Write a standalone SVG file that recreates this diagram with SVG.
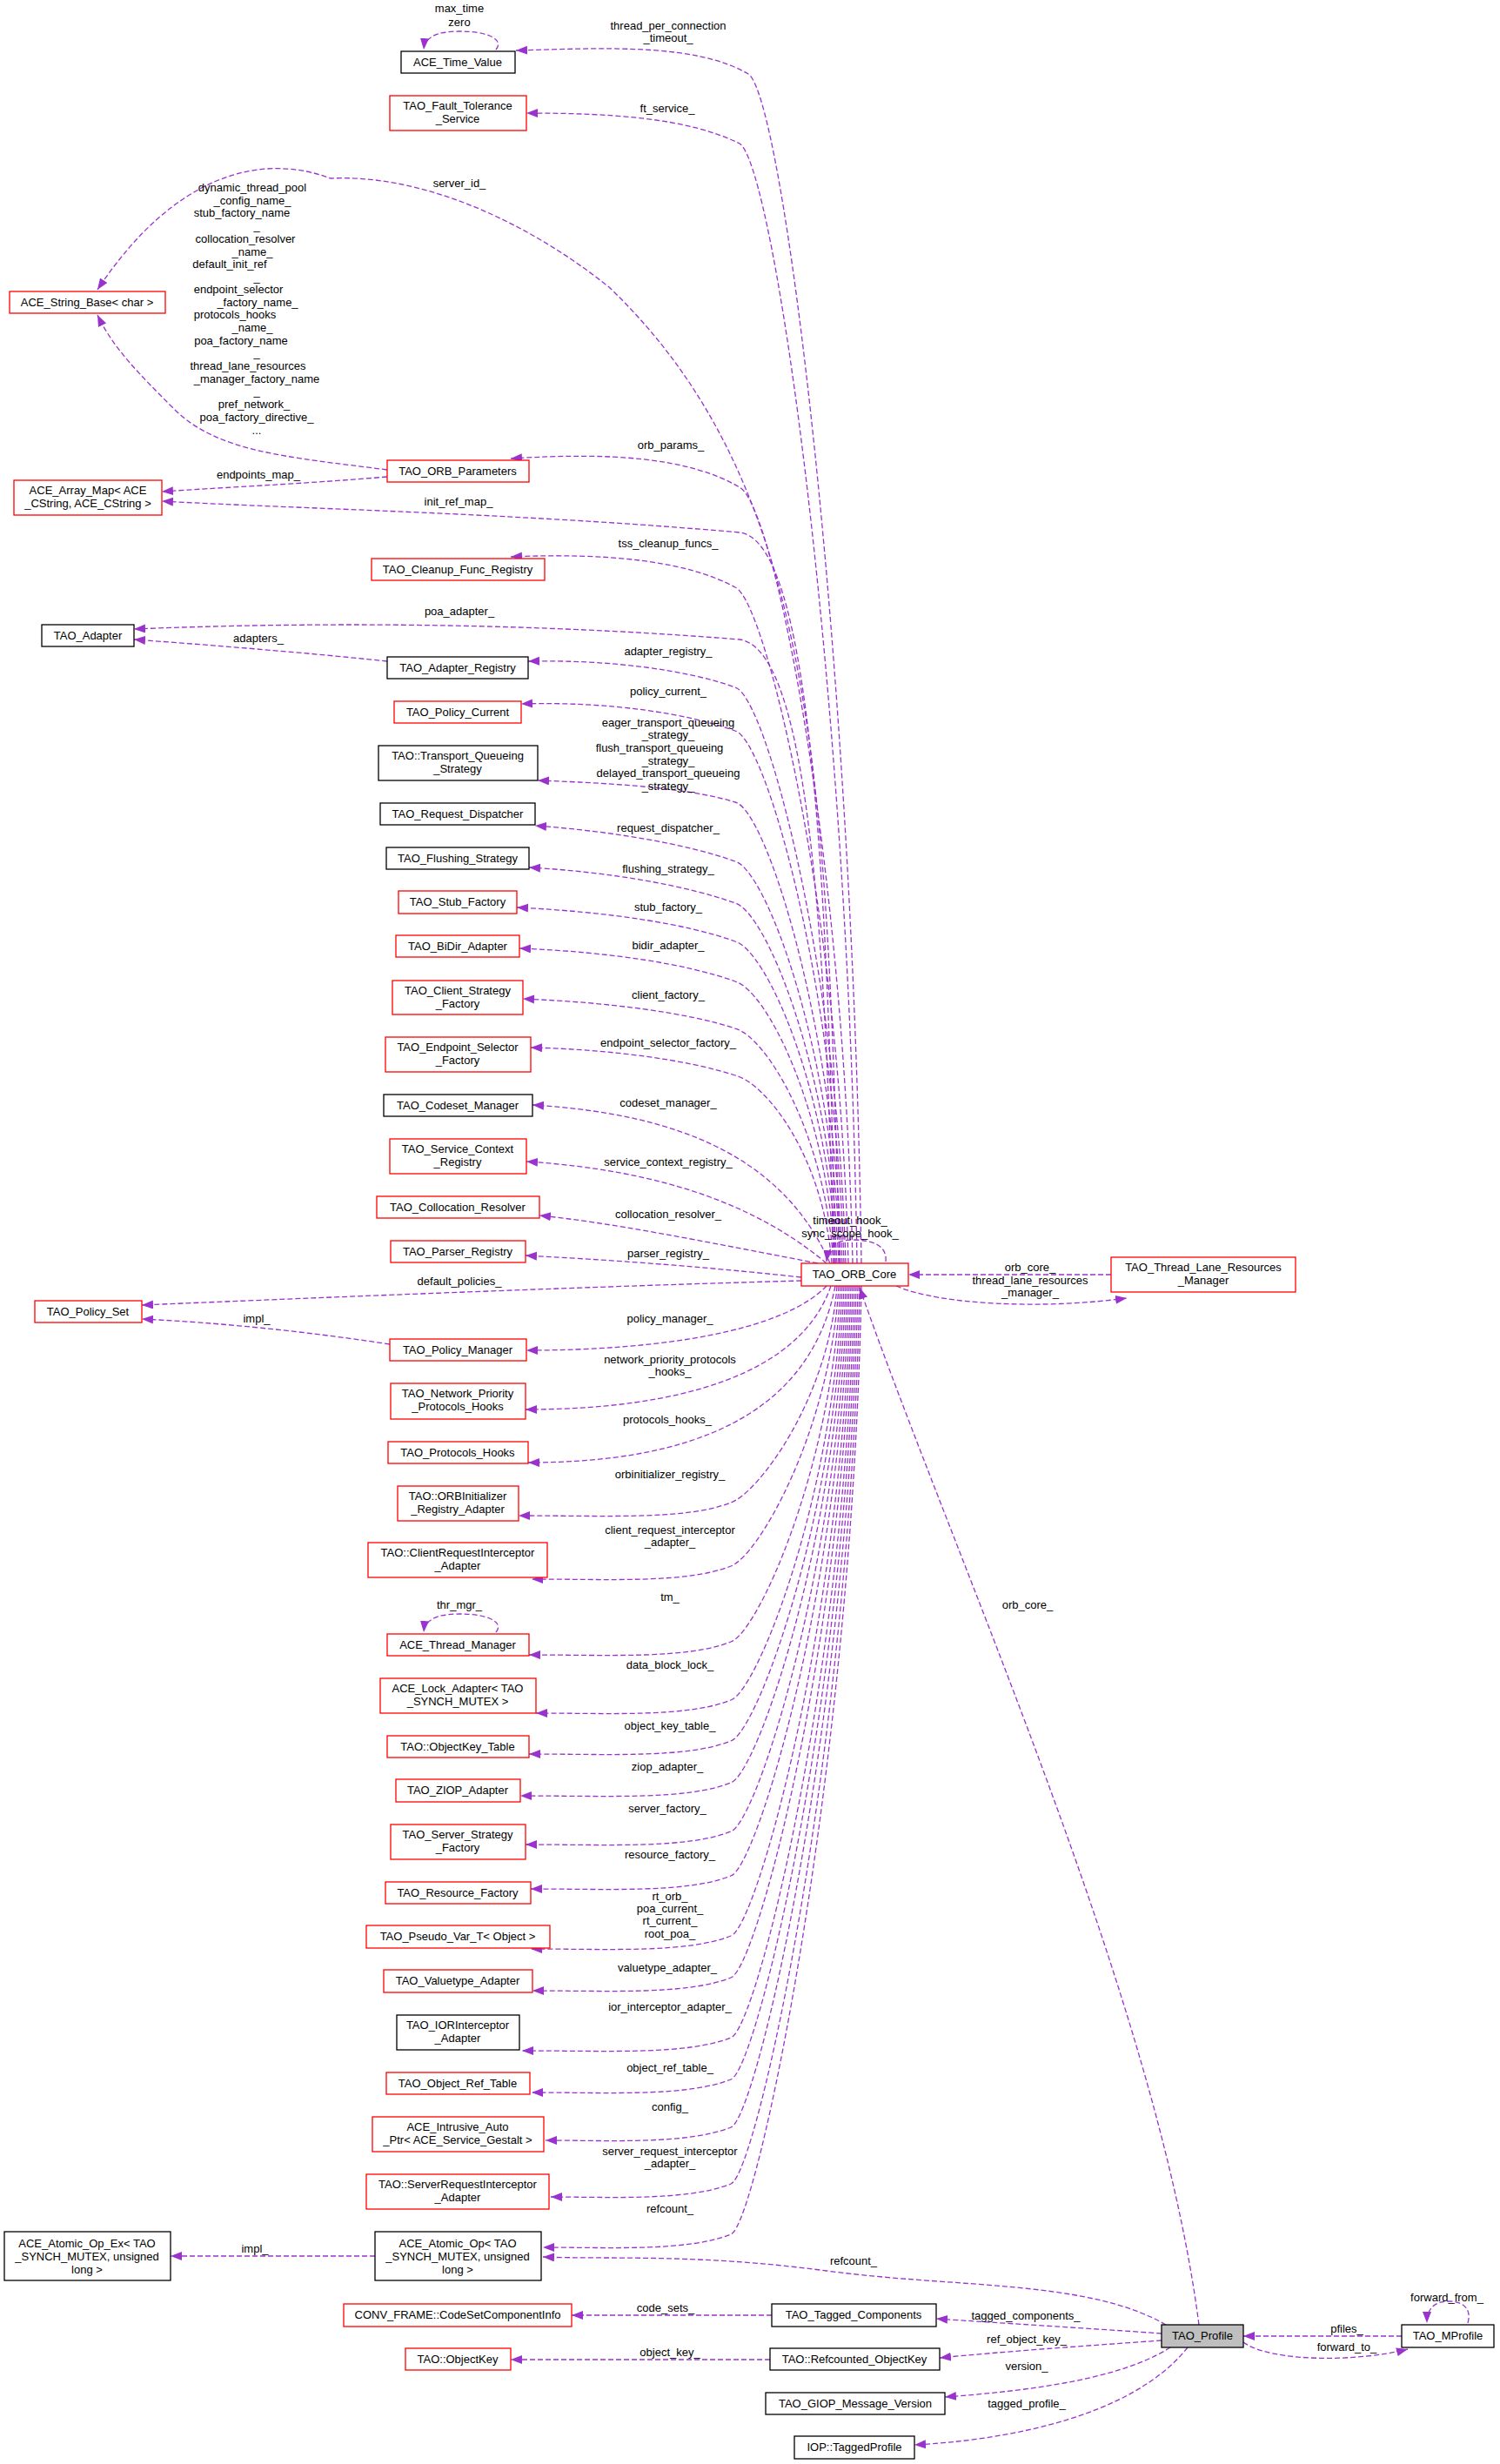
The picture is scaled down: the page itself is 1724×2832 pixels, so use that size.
<svg xmlns="http://www.w3.org/2000/svg" width="1724" height="2832" viewBox="0 0 1724 2832">
<style>
.n rect{fill:#fff;stroke:#000;stroke-width:1.3}
.r rect{stroke:#ff0000}
.g rect{fill:#bfbfbf}
text{font-family:"Liberation Sans",Arial,sans-serif;font-size:13px;fill:#000;text-anchor:middle}
.e path{fill:none;stroke:#9a32cd;stroke-width:1.3;stroke-dasharray:6,3;marker-end:url(#a)}
</style>
<defs><marker id="a" markerUnits="userSpaceOnUse" markerWidth="14" markerHeight="12" refX="13" refY="5" orient="auto"><path d="M0,0 L13,5 L0,10 z" fill="#9a32cd"/></marker></defs>
<rect width="1724" height="2832" fill="#fff"/>
<g class="e">
<path d="M570,57 C580,45 560,36 528,36 C500,36 488,44 487,57"/>
<path d="M570,1876 C580,1864 560,1855 528,1855 C500,1855 488,1863 487,1876"/>
<path d="M1018,1450 C1020,1430 1000,1425 980,1425 C962,1425 952,1432 950,1450"/>
<path d="M1687,2670 C1692,2652 1680,2645 1665,2645 C1650,2645 1640,2652 1640,2670"/>
<path d="M990,1452 C980,755 900,110 860,85 C800,50 700,55 593,58"/>
<path d="M985,1452 C975,791 890,190 850,165 C790,135 700,130 605,130"/>
<path d="M965,1452 C950,900 940,560 700,330 C600,250 480,200 380,205 C300,175 200,200 112,333"/>
<path d="M445,540 C330,525 250,520 200,470 C160,430 130,400 112,362"/>
<path d="M445,548 C350,556 260,560 186,565"/>
<path d="M980,1452 C970,990 890,580 850,560 C790,525 700,520 587,527"/>
<path d="M960,1452 C950,900 920,620 850,612 C600,590 350,585 186,576"/>
<path d="M975,1452 C965,1046 880,690 845,675 C790,645 700,635 587,640"/>
<path d="M958,1452 C948,1000 920,745 850,735 C600,715 350,715 154,723"/>
<path d="M445,760 C350,750 250,742 154,735"/>
<path d="M972,1452 C962,1106 880,800 845,790 C790,770 700,758 607,760"/>
<path d="M970,1452 C960,1130 880,850 845,840 C790,820 700,806 599,809"/>
<path d="M968,1452 C958,1175 880,930 845,922 C790,905 700,900 618,897"/>
<path d="M966,1452 C956,1200 880,1000 845,990 C790,970 700,955 615,949"/>
<path d="M964,1452 C954,1225 880,1048 845,1038 C790,1018 700,1002 608,997"/>
<path d="M962,1452 C952,1248 880,1092 845,1082 C790,1062 700,1048 594,1043"/>
<path d="M960,1452 C950,1271 880,1138 845,1128 C790,1108 700,1094 597,1090"/>
<path d="M958,1452 C948,1300 880,1192 845,1182 C790,1164 700,1152 601,1148"/>
<path d="M956,1452 C946,1328 880,1245 845,1236 C790,1218 700,1206 610,1204"/>
<path d="M954,1452 C900,1330 780,1280 612,1270"/>
<path d="M950,1452 C870,1385 760,1345 605,1335"/>
<path d="M940,1452 C800,1425 700,1405 620,1397"/>
<path d="M921,1468 C800,1455 700,1448 604,1443"/>
<path d="M921,1472 C700,1478 400,1490 163,1500"/>
<path d="M1277,1465 L1044,1465"/>
<path d="M1030,1478 C1080,1500 1200,1505 1295,1492"/>
<path d="M448,1545 C350,1530 250,1520 163,1516"/>
<path d="M950,1478 C900,1530 760,1552 605,1552"/>
<path d="M955,1478 C920,1580 780,1620 604,1620"/>
<path d="M960,1478 C930,1630 790,1681 607,1681"/>
<path d="M962,1478 C952,1610 870,1717 840,1727 C790,1747 700,1742 596,1742"/>
<path d="M964,1478 C954,1647 870,1790 840,1800 C790,1820 700,1815 611,1815"/>
<path d="M966,1478 C956,1690 870,1877 840,1887 C790,1907 700,1902 608,1902"/>
<path d="M968,1478 C958,1724 870,1944 840,1954 C790,1974 700,1969 616,1969"/>
<path d="M970,1478 C960,1747 870,1991 840,2001 C790,2021 700,2016 608,2016"/>
<path d="M972,1478 C962,1771 870,2039 840,2049 C790,2069 700,2064 598,2064"/>
<path d="M974,1478 C964,1799 870,2095 840,2105 C790,2125 700,2120 604,2120"/>
<path d="M976,1478 C966,1825 870,2146 840,2156 C790,2176 700,2171 610,2171"/>
<path d="M978,1478 C968,1859 870,2215 840,2225 C790,2245 700,2240 610,2240"/>
<path d="M980,1478 C970,1883 870,2263 840,2273 C790,2293 700,2288 612,2288"/>
<path d="M982,1478 C972,1918 870,2332 840,2342 C790,2362 700,2357 600,2357"/>
<path d="M984,1478 C974,1942 870,2380 840,2390 C790,2410 700,2405 611,2405"/>
<path d="M986,1478 C976,1969 870,2435 840,2445 C790,2465 700,2460 627,2460"/>
<path d="M988,1478 C978,2002 870,2500 840,2510 C790,2530 700,2525 633,2525"/>
<path d="M990,1478 C980,2031 870,2558 840,2568 C790,2588 700,2583 624,2583"/>
<path d="M431,2593 L196,2593"/>
<path d="M1340,2672 C1250,2620 1100,2630 950,2610 C800,2590 700,2597 624,2594"/>
<path d="M1378,2672 C1330,2300 1100,1800 988,1480"/>
<path d="M887,2661 L657,2661"/>
<path d="M1335,2682 C1250,2676 1150,2670 1076,2665"/>
<path d="M885,2712 L587,2712"/>
<path d="M1335,2690 C1250,2696 1150,2703 1080,2710"/>
<path d="M1345,2698 C1280,2740 1150,2750 1086,2755"/>
<path d="M1365,2698 C1300,2780 1150,2805 1051,2810"/>
<path d="M1611,2685 L1429,2685"/>
<path d="M1429,2692 C1460,2715 1560,2715 1618,2700"/>
</g>
<g id="labels">
<text x="528" y="14">max_time</text><text x="528" y="30">zero</text>
<text x="768" y="34">thread_per_connection</text><text x="768" y="48">_timeout_</text>
<text x="767" y="129">ft_service_</text>
<text x="528" y="215">server_id_</text>
<text x="290" y="220">dynamic_thread_pool</text>
<text x="290" y="235">_config_name_</text>
<text x="278" y="249">stub_factory_name</text>
<text x="295" y="264">_</text>
<text x="282" y="279">collocation_resolver</text>
<text x="290" y="294">_name_</text>
<text x="264" y="308">default_init_ref</text>
<text x="295" y="323">_</text>
<text x="274" y="337">endpoint_selector</text>
<text x="296" y="352">_factory_name_</text>
<text x="270" y="366">protocols_hooks</text>
<text x="290" y="381">_name_</text>
<text x="277" y="396">poa_factory_name</text>
<text x="295" y="410">_</text>
<text x="285" y="425">thread_lane_resources</text>
<text x="295" y="440">_manager_factory_name</text>
<text x="295" y="454">_</text>
<text x="292" y="469">pref_network_</text>
<text x="295" y="484">poa_factory_directive_</text>
<text x="295" y="499">...</text>
<text x="297" y="550">endpoints_map_</text>
<text x="527" y="581">init_ref_map_</text>
<text x="771" y="516">orb_params_</text>
<text x="768" y="629">tss_cleanup_funcs_</text>
<text x="528" y="707">poa_adapter_</text>
<text x="297" y="738">adapters_</text>
<text x="768" y="753">adapter_registry_</text>
<text x="768" y="799">policy_current_</text>
<text x="768" y="835">eager_transport_queueing</text>
<text x="768" y="849">_strategy_</text>
<text x="758" y="864">flush_transport_queueing</text>
<text x="768" y="879">_strategy_</text>
<text x="768" y="893">delayed_transport_queueing</text>
<text x="768" y="908">_strategy_</text>
<text x="768" y="956">request_dispatcher_</text>
<text x="768" y="1003">flushing_strategy_</text>
<text x="768" y="1047">stub_factory_</text>
<text x="768" y="1091">bidir_adapter_</text>
<text x="768" y="1148">client_factory_</text>
<text x="768" y="1203">endpoint_selector_factory_</text>
<text x="768" y="1272">codeset_manager_</text>
<text x="768" y="1340">service_context_registry_</text>
<text x="768" y="1400">collocation_resolver_</text>
<text x="768" y="1445">parser_registry_</text>
<text x="528" y="1477">default_policies_</text>
<text x="977" y="1407">timeout_hook_</text>
<text x="977" y="1422">sync_scope_hook_</text>
<text x="1184" y="1461">orb_core_</text>
<text x="1184" y="1476">thread_lane_resources</text>
<text x="1184" y="1490">_manager_</text>
<text x="295" y="1520">impl_</text>
<text x="770" y="1520">policy_manager_</text>
<text x="770" y="1567">network_priority_protocols</text>
<text x="770" y="1581">_hooks_</text>
<text x="767" y="1636">protocols_hooks_</text>
<text x="770" y="1699">orbinitializer_registry_</text>
<text x="770" y="1763">client_request_interceptor</text>
<text x="770" y="1777">_adapter_</text>
<text x="770" y="1840">tm_</text>
<text x="528" y="1849">thr_mgr_</text>
<text x="1181" y="1849">orb_core_</text>
<text x="770" y="1918">data_block_lock_</text>
<text x="770" y="1988">object_key_table_</text>
<text x="767" y="2035">ziop_adapter_</text>
<text x="767" y="2083">server_factory_</text>
<text x="770" y="2136">resource_factory_</text>
<text x="770" y="2184">rt_orb_</text>
<text x="770" y="2198">poa_current_</text>
<text x="770" y="2212">rt_current_</text>
<text x="770" y="2227">root_poa_</text>
<text x="767" y="2266">valuetype_adapter_</text>
<text x="770" y="2311">ior_interceptor_adapter_</text>
<text x="770" y="2381">object_ref_table_</text>
<text x="770" y="2426">config_</text>
<text x="770" y="2477">server_request_interceptor</text>
<text x="770" y="2491">_adapter_</text>
<text x="770" y="2543">refcount_</text>
<text x="293" y="2589">impl_</text>
<text x="981" y="2603">refcount_</text>
<text x="765" y="2657">code_sets_</text>
<text x="1179" y="2666">tagged_components_</text>
<text x="770" y="2708">object_key_</text>
<text x="1180" y="2693">ref_object_key_</text>
<text x="1180" y="2724">version_</text>
<text x="1180" y="2767">tagged_profile_</text>
<text x="1548" y="2681">pfiles_</text>
<text x="1548" y="2702">forward_to_</text>
<text x="1663" y="2645">forward_from_</text>
</g>
<g id="n_time" class="n"><rect x="461" y="59" width="131" height="25"/><text x="526" y="76">ACE_Time_Value</text></g>
<g id="n_ft" class="n r"><rect x="448" y="110" width="157" height="40"/><text x="526" y="126">TAO_Fault_Tolerance</text><text x="526" y="141">_Service</text></g>
<g id="n_strbase" class="n r"><rect x="11" y="335" width="179" height="25"/><text x="100" y="352">ACE_String_Base&lt; char &gt;</text></g>
<g id="n_orbparams" class="n r"><rect x="445" y="529" width="163" height="25"/><text x="526" y="546">TAO_ORB_Parameters</text></g>
<g id="n_arraymap" class="n r"><rect x="16" y="552" width="170" height="40"/><text x="101" y="568">ACE_Array_Map&lt; ACE</text><text x="101" y="583">_CString, ACE_CString &gt;</text></g>
<g id="n_cleanup" class="n r"><rect x="427" y="642" width="199" height="25"/><text x="526" y="659">TAO_Cleanup_Func_Registry</text></g>
<g id="n_adapter" class="n"><rect x="48" y="718" width="106" height="25"/><text x="101" y="735">TAO_Adapter</text></g>
<g id="n_adreg" class="n"><rect x="445" y="755" width="162" height="25"/><text x="526" y="772">TAO_Adapter_Registry</text></g>
<g id="n_polcur" class="n r"><rect x="453" y="806" width="146" height="25"/><text x="526" y="823">TAO_Policy_Current</text></g>
<g id="n_tqs" class="n"><rect x="435" y="857" width="183" height="40"/><text x="526" y="873">TAO::Transport_Queueing</text><text x="526" y="888">_Strategy</text></g>
<g id="n_reqd" class="n"><rect x="437" y="923" width="178" height="25"/><text x="526" y="940">TAO_Request_Dispatcher</text></g>
<g id="n_flush" class="n"><rect x="444" y="974" width="164" height="25"/><text x="526" y="991">TAO_Flushing_Strategy</text></g>
<g id="n_stub" class="n r"><rect x="458" y="1024" width="136" height="26"/><text x="526" y="1041">TAO_Stub_Factory</text></g>
<g id="n_bidir" class="n r"><rect x="455" y="1075" width="142" height="25"/><text x="526" y="1092">TAO_BiDir_Adapter</text></g>
<g id="n_csf" class="n r"><rect x="451" y="1127" width="150" height="39"/><text x="526" y="1143">TAO_Client_Strategy</text><text x="526" y="1158">_Factory</text></g>
<g id="n_esf" class="n r"><rect x="443" y="1192" width="167" height="40"/><text x="526" y="1208">TAO_Endpoint_Selector</text><text x="526" y="1223">_Factory</text></g>
<g id="n_codeset" class="n"><rect x="441" y="1258" width="171" height="25"/><text x="526" y="1275">TAO_Codeset_Manager</text></g>
<g id="n_scr" class="n r"><rect x="448" y="1309" width="157" height="40"/><text x="526" y="1325">TAO_Service_Context</text><text x="526" y="1340">_Registry</text></g>
<g id="n_coll" class="n r"><rect x="433" y="1375" width="187" height="25"/><text x="526" y="1392">TAO_Collocation_Resolver</text></g>
<g id="n_parser" class="n r"><rect x="449" y="1426" width="155" height="25"/><text x="526" y="1443">TAO_Parser_Registry</text></g>
<g id="n_orbcore" class="n r"><rect x="921" y="1452" width="123" height="26"/><text x="982" y="1469">TAO_ORB_Core</text></g>
<g id="n_tlrm" class="n r"><rect x="1277" y="1445" width="212" height="40"/><text x="1383" y="1461">TAO_Thread_Lane_Resources</text><text x="1383" y="1476">_Manager</text></g>
<g id="n_polset" class="n r"><rect x="40" y="1495" width="123" height="25"/><text x="101" y="1512">TAO_Policy_Set</text></g>
<g id="n_polmgr" class="n r"><rect x="448" y="1539" width="157" height="25"/><text x="526" y="1556">TAO_Policy_Manager</text></g>
<g id="n_nph" class="n r"><rect x="449" y="1590" width="155" height="41"/><text x="526" y="1606">TAO_Network_Priority</text><text x="526" y="1621">_Protocols_Hooks</text></g>
<g id="n_ph" class="n r"><rect x="446" y="1657" width="161" height="25"/><text x="526" y="1674">TAO_Protocols_Hooks</text></g>
<g id="n_orbinit" class="n r"><rect x="457" y="1708" width="139" height="40"/><text x="526" y="1724">TAO::ORBInitializer</text><text x="526" y="1739">_Registry_Adapter</text></g>
<g id="n_cri" class="n r"><rect x="423" y="1773" width="206" height="40"/><text x="526" y="1789">TAO::ClientRequestInterceptor</text><text x="526" y="1804">_Adapter</text></g>
<g id="n_thrmgr" class="n r"><rect x="445" y="1878" width="163" height="25"/><text x="526" y="1895">ACE_Thread_Manager</text></g>
<g id="n_lock" class="n r"><rect x="437" y="1929" width="179" height="40"/><text x="526" y="1945">ACE_Lock_Adapter&lt; TAO</text><text x="526" y="1960">_SYNCH_MUTEX &gt;</text></g>
<g id="n_okt" class="n r"><rect x="445" y="1995" width="163" height="25"/><text x="526" y="2012">TAO::ObjectKey_Table</text></g>
<g id="n_ziop" class="n r"><rect x="455" y="2045" width="143" height="26"/><text x="526" y="2062">TAO_ZIOP_Adapter</text></g>
<g id="n_ssf" class="n r"><rect x="449" y="2097" width="155" height="40"/><text x="526" y="2113">TAO_Server_Strategy</text><text x="526" y="2128">_Factory</text></g>
<g id="n_rf" class="n r"><rect x="443" y="2163" width="167" height="25"/><text x="526" y="2180">TAO_Resource_Factory</text></g>
<g id="n_pv" class="n r"><rect x="421" y="2213" width="211" height="26"/><text x="526" y="2230">TAO_Pseudo_Var_T&lt; Object &gt;</text></g>
<g id="n_va" class="n r"><rect x="441" y="2264" width="171" height="26"/><text x="526" y="2281">TAO_Valuetype_Adapter</text></g>
<g id="n_ior" class="n"><rect x="456" y="2316" width="141" height="40"/><text x="526" y="2332">TAO_IORInterceptor</text><text x="526" y="2347">_Adapter</text></g>
<g id="n_ort" class="n r"><rect x="444" y="2382" width="165" height="25"/><text x="526" y="2399">TAO_Object_Ref_Table</text></g>
<g id="n_iap" class="n r"><rect x="428" y="2433" width="197" height="40"/><text x="526" y="2449">ACE_Intrusive_Auto</text><text x="526" y="2464">_Ptr&lt; ACE_Service_Gestalt &gt;</text></g>
<g id="n_sri" class="n r"><rect x="421" y="2499" width="210" height="40"/><text x="526" y="2515">TAO::ServerRequestInterceptor</text><text x="526" y="2530">_Adapter</text></g>
<g id="n_atomic" class="n"><rect x="431" y="2565" width="191" height="56"/><text x="526" y="2583">ACE_Atomic_Op&lt; TAO</text><text x="526" y="2598">_SYNCH_MUTEX, unsigned</text><text x="526" y="2613">long &gt;</text></g>
<g id="n_atomicex" class="n"><rect x="5" y="2565" width="191" height="56"/><text x="100" y="2583">ACE_Atomic_Op_Ex&lt; TAO</text><text x="100" y="2598">_SYNCH_MUTEX, unsigned</text><text x="100" y="2613">long &gt;</text></g>
<g id="n_conv" class="n r"><rect x="395" y="2648" width="262" height="26"/><text x="526" y="2665">CONV_FRAME::CodeSetComponentInfo</text></g>
<g id="n_tc" class="n"><rect x="887" y="2648" width="189" height="26"/><text x="981" y="2665">TAO_Tagged_Components</text></g>
<g id="n_ok" class="n r"><rect x="466" y="2699" width="121" height="25"/><text x="526" y="2716">TAO::ObjectKey</text></g>
<g id="n_rok" class="n"><rect x="885" y="2699" width="195" height="25"/><text x="982" y="2716">TAO::Refcounted_ObjectKey</text></g>
<g id="n_giop" class="n"><rect x="880" y="2750" width="206" height="25"/><text x="983" y="2767">TAO_GIOP_Message_Version</text></g>
<g id="n_tp" class="n"><rect x="913" y="2800" width="138" height="26"/><text x="982" y="2817">IOP::TaggedProfile</text></g>
<g id="n_profile" class="n g"><rect x="1335" y="2672" width="94" height="26"/><text x="1382" y="2689">TAO_Profile</text></g>
<g id="n_mprofile" class="n"><rect x="1611" y="2672" width="106" height="26"/><text x="1664" y="2689">TAO_MProfile</text></g>
</svg>
